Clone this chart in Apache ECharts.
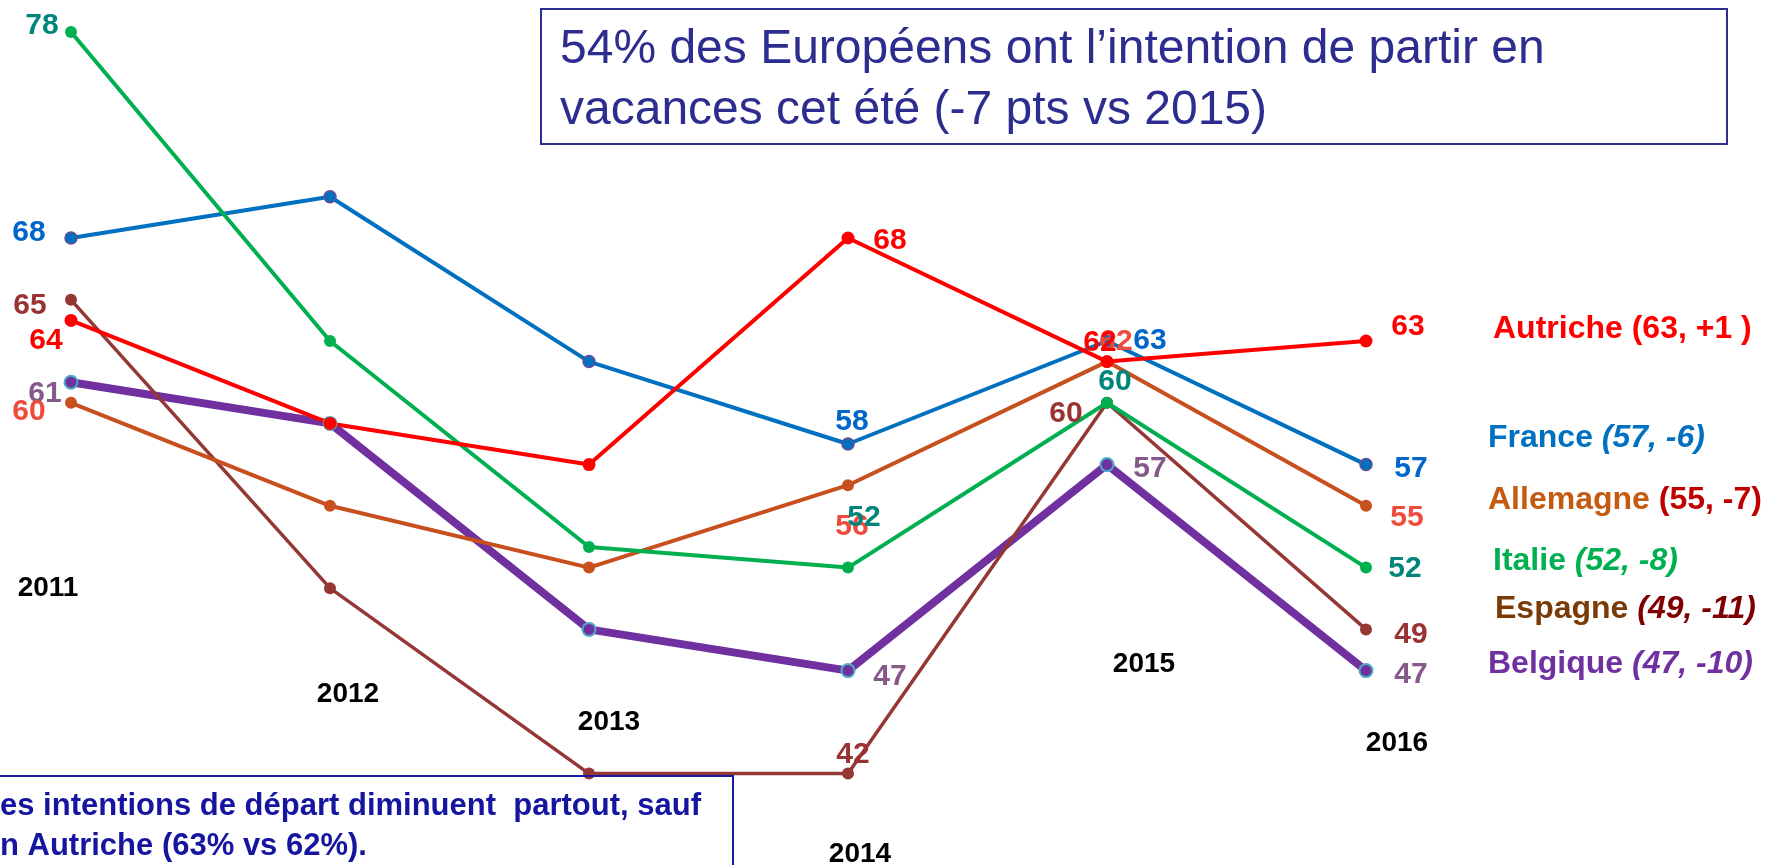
<!DOCTYPE html>
<html>
<head>
<meta charset="utf-8">
<title>Intentions de départ en vacances</title>
<script src="https://cdn.jsdelivr.net/npm/echarts@6/dist/echarts.min.js"></script>
<style>
  html, body { margin: 0; padding: 0; background: #fff; }
  #chart { width: 1766px; height: 865px; }
</style>
</head>
<body>
<div id="chart"></div>
<script>
  // valeurs
  const years     = ['2011', '2012', '2013', '2014', '2015', '2016'];
  const france    = [68, 70, 62, 58, 63, 57];
  const autriche  = [64, 59, 57, 68, 62, 63];
  const italie    = [78, 63, 53, 52, 60, 52];
  const allemagne = [60, 55, 52, 56, 62, 55];
  const espagne   = [65, 51, 42, 42, 60, 49];
  const belgique  = [61, 59, 49, 47, 57, 47];

  const FONT = '"Liberation Sans", Arial, sans-serif';

  // ordre de dessin : le premier est en dessous
  const countries = [
    {name: 'Belgique', data: belgique, color: '#7030A0', width: 8, fill: '#7030A0', border: '#4BACC6', bw: 2, size: 13, label: '#85598A'},
    {name: 'Espagne', data: espagne, color: '#953735', width: 3.5, fill: '#953735', border: '#953735', bw: 0, size: 12, label: '#993333'},
    {name: 'Allemagne', data: allemagne, color: '#C8501E', width: 4, fill: '#C8501E', border: '#C8501E', bw: 0, size: 12, label: '#EE4B3C'},
    {name: 'France', data: france, color: '#0070C0', width: 4, fill: '#0070C0', border: '#6A4C93', bw: 1.5, size: 12, label: '#0066CC'},
    {name: 'Italie', data: italie, color: '#00B050', width: 4, fill: '#00B050', border: '#00B050', bw: 0, size: 12, label: '#00857A'},
    {name: 'Autriche', data: autriche, color: '#FF0000', width: 4, fill: '#FF0000', border: '#FF0000', bw: 0, size: 13, label: '#FF0000'}
  ];

  // décalage des étiquettes [dx, dy] par rapport au point
  const labelLayout = {
    Belgique:  {0: [-26, 12], 3: [42, 6],   4: [43, 4],   5: [45, 4]},
    Espagne:   {0: [-41, 6],  3: [5, -19],  4: [-41, 11], 5: [45, 5]},
    Allemagne: {0: [-42, 9],  3: [4, 42],   4: [9, -20],  5: [41, 12]},
    France:    {0: [-42, -5], 3: [4, -22],  4: [43, 0],   5: [45, 4]},
    Italie:    {0: [-29, -6], 3: [16, -50], 4: [8, -21],  5: [39, 1]},
    Autriche:  {0: [-25, 20], 3: [42, 3],   4: [-7, -19], 5: [42, -14]}
  };

  // position des années : décalage x, centre y en pixels
  const yearLabelPos = [[-23, 588], [18, 694], [20, 722], [12, 854], [37, 664], [31, 743]];

  const legendItems = [
    {x: 1493, y: 329, name: 'Autriche (63, +1 )', nameColor: '#FF0000', val: '', valColor: '#FF0000', italic: false},
    {x: 1488, y: 438, name: 'France ', nameColor: '#0070C0', val: '(57, -6)', valColor: '#0070C0', italic: true},
    {x: 1488, y: 500, name: 'Allemagne ', nameColor: '#C55A11', val: '(55, -7)', valColor: '#C00000', italic: false},
    {x: 1493, y: 561, name: 'Italie ', nameColor: '#00B050', val: '(52, -8)', valColor: '#00B050', italic: true},
    {x: 1495, y: 609, name: 'Espagne ', nameColor: '#7A3B06', val: '(49, -11)', valColor: '#7F0000', italic: true},
    {x: 1488, y: 664, name: 'Belgique ', nameColor: '#7030A0', val: '(47, -10)', valColor: '#7030A0', italic: true}
  ];

  const chart = echarts.init(document.getElementById('chart'));

  chart.setOption({
    animation: false,
    backgroundColor: '#fff',
    grid: {left: 71, right: 400, top: 11.4, height: 803.4},
    xAxis: {
      type: 'category',
      data: years,
      boundaryGap: false,
      show: false
    },
    yAxis: {
      type: 'value',
      min: 40,
      max: 79,
      show: false
    },
    series: countries.map(c => ({
      name: c.name,
      type: 'line',
      data: c.data.map((v, i) => {
        const off = labelLayout[c.name][i];
        return off ? {value: v, label: {show: true, position: 'inside', offset: off}} : {value: v};
      }),
      symbol: 'circle',
      symbolSize: c.size,
      lineStyle: {color: c.color, width: c.width},
      itemStyle: {color: c.fill, borderColor: c.border, borderWidth: c.bw},
      label: {show: false, color: c.label, fontSize: 30, fontWeight: 'bold', fontFamily: FONT},
      emphasis: {disabled: true}
    }))
  });

  const graphics = [];

  // cadre du titre
  graphics.push({
    type: 'rect', shape: {x: 541, y: 9, width: 1186, height: 135},
    style: {fill: '#fff', stroke: '#2D2D8F', lineWidth: 2}, z: 10
  });
  graphics.push({
    type: 'text', x: 560, y: 50, z: 11,
    style: {text: '54% des Européens ont l’intention de partir en', fill: '#2D2D8F',
      font: 'normal 48px ' + FONT, verticalAlign: 'middle'}
  });
  graphics.push({
    type: 'text', x: 560, y: 111, z: 11,
    style: {text: 'vacances cet été (-7 pts vs 2015)', fill: '#2D2D8F',
      font: 'normal 48px ' + FONT, verticalAlign: 'middle'}
  });

  // encadré du bas
  graphics.push({
    type: 'rect', shape: {x: -5, y: 776, width: 738, height: 200},
    style: {fill: 'transparent', stroke: '#1A1AA0', lineWidth: 2}, z: 10
  });
  graphics.push({
    type: 'text', x: 0, y: 806, z: 11,
    style: {text: 'es intentions de départ diminuent  partout, sauf', fill: '#1515A0',
      font: 'bold 31px ' + FONT, verticalAlign: 'middle'}
  });
  graphics.push({
    type: 'text', x: 0, y: 846, z: 11,
    style: {text: 'n Autriche (63% vs 62%).', fill: '#1515A0',
      font: 'bold 31px ' + FONT, verticalAlign: 'middle'}
  });

  // années
  years.forEach((y, i) => {
    const px = chart.convertToPixel({xAxisIndex: 0}, y);
    graphics.push({
      type: 'text', x: px + yearLabelPos[i][0], y: yearLabelPos[i][1], z: 5,
      style: {text: y, fill: '#000', font: 'bold 28px ' + FONT, align: 'center', verticalAlign: 'middle'}
    });
  });

  // légende à droite
  legendItems.forEach(it => {
    graphics.push({
      type: 'text', x: it.x, y: it.y, z: 5,
      style: {
        text: '{n|' + it.name + '}' + (it.val ? '{v|' + it.val + '}' : ''),
        verticalAlign: 'middle',
        rich: {
          n: {fill: it.nameColor, font: 'bold 32px ' + FONT},
          v: {fill: it.valColor, font: (it.italic ? 'italic ' : '') + 'bold 32px ' + FONT}
        }
      }
    });
  });

  chart.setOption({graphic: graphics});

  window.onresize = function () {
    chart.resize();
  };
</script>
</body>
</html>
